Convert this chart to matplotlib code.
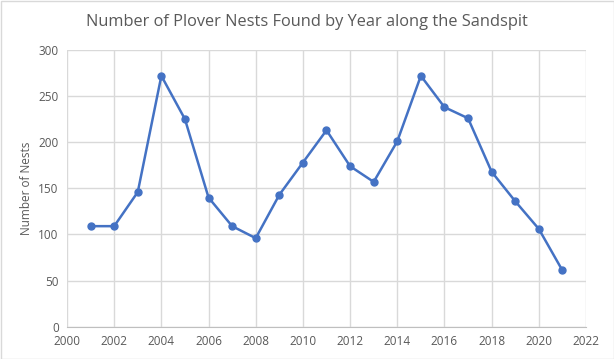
import matplotlib
matplotlib.use("Agg")
import matplotlib.pyplot as plt
from matplotlib.patches import Rectangle

years = [2001, 2002, 2003, 2004, 2005, 2006, 2007, 2008, 2009, 2010, 2011,
         2012, 2013, 2014, 2015, 2016, 2017, 2018, 2019, 2020, 2021]
nests = [109, 109, 146, 272, 225, 140, 109, 96, 143, 178, 213,
         174, 157, 201, 272, 238, 226, 168, 136, 106, 61]
x_ticks = list(range(2000, 2023, 2))
y_ticks = list(range(0, 301, 50))

plt.rcParams['font.family'] = ['Open Sans', 'DejaVu Sans']
W, H = 614, 359
fig = plt.figure(figsize=(W/100, H/100), dpi=100)
ax = fig.add_axes([67/W, 1-326.7/H, (586-67)/W, (326.7-50)/H])

ax.plot(years, nests, color='#4472C4', lw=1.8, marker='o', ms=5, zorder=3)
ax.set_xlim(2000, 2022)
ax.set_ylim(0, 300)
ax.set_xticks(x_ticks)
ax.set_yticks(y_ticks)
ax.grid(True, color='#D9D9D9', lw=1)
ax.set_axisbelow(True)
for s in ['top', 'right', 'left']:
    ax.spines[s].set_visible(False)
ax.spines['bottom'].set_color('#BFBFBF')
ax.tick_params(length=0, colors='#595959', labelsize=8.5, pad=6)
ax.set_ylabel('Number of Nests', color='#595959', fontsize=8.5, labelpad=4)
fig.text(0.5, 1-22/H, 'Number of Plover Nests Found by Year along the Sandspit',
         ha='center', va='center', color='#595959', fontsize=11.8)
fig.patches.append(Rectangle((0.5/W, 0.5/H), 1-1/W, 1-1/H, transform=fig.transFigure,
                             fill=False, ec='#D9D9D9', lw=1))
fig.savefig('out.png', dpi=100)
